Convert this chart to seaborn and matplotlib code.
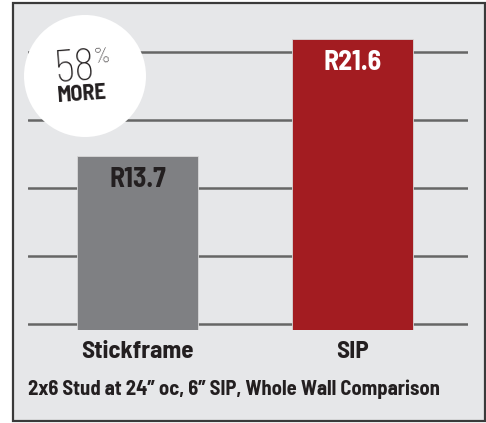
import numpy as np
import pandas as pd
import matplotlib.pyplot as plt
import seaborn as sns
from matplotlib.patches import Rectangle, Ellipse

walls = ['Stickframe', 'SIP']
r_values = [13.7, 21.6]
r_labels = ['R13.7', 'R21.6']
bar_colors = ['#7f8083', '#a31c21']
label_colors = ['#231f20', 'white']
badge_pct = '58'
badge_word = 'MORE'
caption = '2x6 Stud at 24\u201d oc, 6\u201d SIP, Whole Wall Comparison'

sns.set_theme(style='white')
# condensed face like the original; DejaVu Sans Condensed as a fallback
plt.rcParams['font.family'] = ['Barlow Semi Condensed', 'DejaVu Sans']
plt.rcParams['font.stretch'] = 'condensed'

W, H = 486, 423
INK = '#231f20'


def px(x, y):
    # pixel coords (from top-left) -> figure fraction
    return x / W, 1 - y / H


fig = plt.figure(figsize=(W / 100, H / 100), dpi=100)
fig.patch.set_facecolor('white')

# framed grey panel
fig.patches.append(Rectangle(px(13, 421), (485 - 13) / W, (421 - 3) / H,
                             transform=fig.transFigure, facecolor='#e6e7e9',
                             edgecolor='#3a3a3a', linewidth=1.6, zorder=-1))

l, b = px(28, 330)
ax = fig.add_axes([l, b, (468 - 28) / W, (330 - 20) / H])
ax.set_facecolor('none')

df = pd.DataFrame({'wall': walls, 'r': r_values})
sns.barplot(data=df, x='wall', y='r', hue='wall', palette=bar_colors,
            width=0.56, saturation=1, legend=False, ax=ax, zorder=2,
            edgecolor='#d8d8d8', linewidth=0.6)

ax.set_ylim(1.95, 22.88)
ax.set_xlim(-0.509, 1.537)
ax.set_yticks(np.arange(2.35, 21.5, 4.59))
ax.set_axisbelow(True)
ax.yaxis.grid(True, color='#666666', linewidth=1.8)
ax.xaxis.grid(False)
for s in ax.spines.values():
    s.set_visible(False)
ax.tick_params(left=False, labelleft=False, bottom=False, pad=2)
ax.set_xlabel('')
ax.set_ylabel('')
for t in ax.get_xticklabels():
    t.set_fontsize(18)
    t.set_fontweight('bold')
    t.set_color(INK)

for i, (v, lab, c) in enumerate(zip(r_values, r_labels, label_colors)):
    ax.annotate(lab, xy=(i, v), xytext=(0, -17), textcoords='offset points',
                ha='center', va='center', fontsize=20, fontweight='bold', color=c)

# badge
fig.patches.append(Ellipse(px(85, 76), 122 / W, 122 / H, transform=fig.transFigure,
                           facecolor='white', edgecolor='none', zorder=5))
fig.text(*px(96, 79), badge_pct, ha='right', va='baseline', fontsize=32,
         fontweight='light', color=INK, rotation=4, rotation_mode='anchor', zorder=6)
fig.text(*px(94, 63), '%', ha='left', va='baseline', fontsize=15,
         fontweight='light', color=INK, rotation=4, rotation_mode='anchor', zorder=6)
fig.text(*px(83, 100), badge_word, ha='center', va='baseline', fontsize=16,
         fontweight='bold', color=INK, rotation=4, rotation_mode='anchor', zorder=6)

fig.text(*px(28, 395), caption, ha='left', va='baseline', fontsize=14.8,
         fontweight='bold', color=INK)

fig.savefig('out.png', dpi=100)
